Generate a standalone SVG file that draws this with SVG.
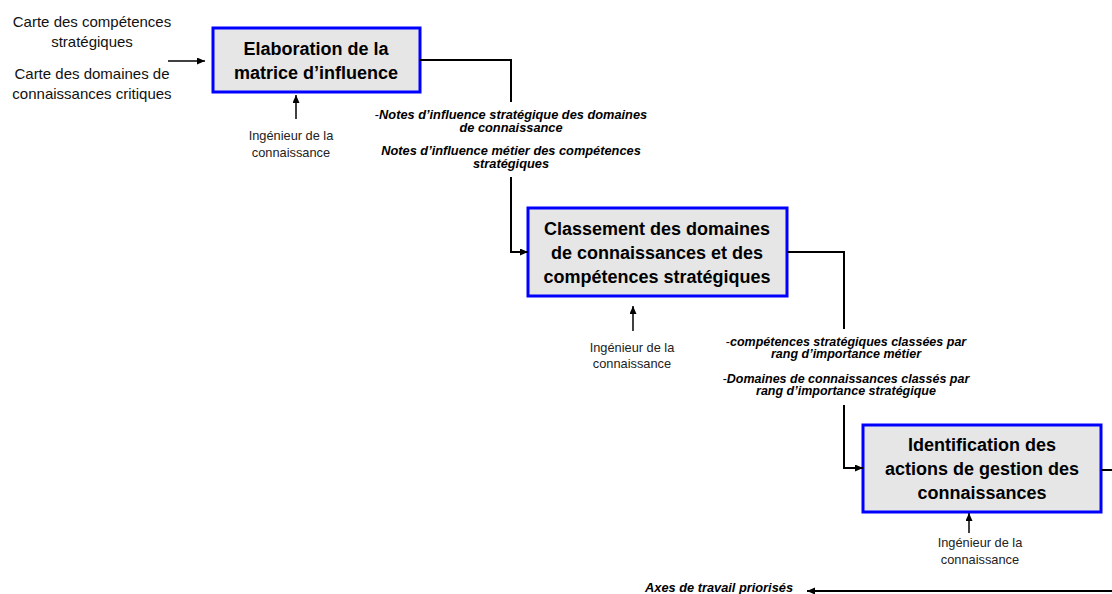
<svg xmlns="http://www.w3.org/2000/svg" width="1112" height="594" viewBox="0 0 1112 594">
<style>
.box{fill:#e6e6e6;stroke:#0000ff;stroke-width:3}
.bt{font-family:"Liberation Sans",Arial,sans-serif;font-size:18px;font-weight:bold;fill:#000;text-anchor:middle}
.in{font-family:"Liberation Sans",Arial,sans-serif;font-size:15px;fill:#111;text-anchor:middle}
.ing{font-family:"Liberation Sans",Arial,sans-serif;font-size:12.8px;fill:#222;text-anchor:middle}
.lb{font-family:"Liberation Sans",Arial,sans-serif;font-size:12.8px;font-weight:bold;font-style:italic;fill:#000;text-anchor:middle}
.lb2{font-family:"Liberation Sans",Arial,sans-serif;font-size:12.5px;font-weight:bold;font-style:italic;fill:#000;text-anchor:middle}
.hy{font-weight:normal;font-style:normal}
.cn{fill:none;stroke:#000;stroke-width:2}
.cs{fill:none;stroke:#000;stroke-width:1.5}
</style>
<defs>
<marker id="ah" markerWidth="8" markerHeight="8" refX="8" refY="3.5" orient="auto" markerUnits="userSpaceOnUse">
<path d="M0,0 L8,3.5 L0,7 z" fill="#000"/>
</marker>
</defs>
<rect width="1112" height="594" fill="#fff"/>

<g id="inputs">
<text class="in" x="92" y="27">Carte des compétences</text>
<text class="in" x="92" y="47">stratégiques</text>
<text class="in" x="92" y="79">Carte des domaines de</text>
<text class="in" x="92" y="99">connaissances critiques</text>
</g>

<g id="node1">
<rect class="box" x="213" y="28" width="207" height="64"/>
<text class="bt" x="316" y="55">Elaboration de la</text>
<text class="bt" x="316" y="79">matrice d’influence</text>
</g>

<g id="node2">
<rect class="box" x="528" y="208" width="259" height="88"/>
<text class="bt" x="657" y="235">Classement des domaines</text>
<text class="bt" x="657" y="259">de connaissances et des</text>
<text class="bt" x="657" y="283">compétences stratégiques</text>
</g>

<g id="node3">
<rect class="box" x="863" y="425" width="238" height="87"/>
<text class="bt" x="982" y="451">Identification des</text>
<text class="bt" x="982" y="475">actions de gestion des</text>
<text class="bt" x="982" y="499">connaissances</text>
</g>

<g id="actors">
<text class="ing" x="291" y="140">Ingénieur de la</text>
<text class="ing" x="291" y="157">connaissance</text>
<text class="ing" x="632" y="352">Ingénieur de la</text>
<text class="ing" x="632" y="368">connaissance</text>
<text class="ing" x="980" y="547">Ingénieur de la</text>
<text class="ing" x="980" y="564">connaissance</text>
</g>

<g id="connectors">
<line class="cs" x1="168" y1="61" x2="205" y2="61" marker-end="url(#ah)"/>
<polyline class="cn" points="420,60 511,60 511,102"/>
<polyline class="cn" points="511,177 511,252 528,252" marker-end="url(#ah)"/>
<polyline class="cn" points="787,252 844,252 844,329"/>
<polyline class="cn" points="844,405 844,468 863,468" marker-end="url(#ah)"/>
<line class="cn" x1="1101" y1="470" x2="1112" y2="470"/>
<line class="cn" x1="1112" y1="591" x2="807" y2="591" marker-end="url(#ah)"/>
<line class="cs" x1="296" y1="119" x2="296" y2="95" marker-end="url(#ah)"/>
<line class="cs" x1="633" y1="331" x2="633" y2="306" marker-end="url(#ah)"/>
<line class="cs" x1="969" y1="533" x2="969" y2="513" marker-end="url(#ah)"/>
</g>

<g id="labels">
<text class="lb" x="511" y="119"><tspan class="hy">-</tspan>Notes d’influence stratégique des domaines</text>
<text class="lb" x="511" y="132">de connaissance</text>
<text class="lb" x="511" y="155">Notes d’influence métier des compétences</text>
<text class="lb" x="511" y="168">stratégiques</text>
<text class="lb2" x="846" y="346"><tspan class="hy">-</tspan>compétences stratégiques classées par</text>
<text class="lb2" x="846" y="358">rang d’importance métier</text>
<text class="lb2" x="846" y="383"><tspan class="hy">-</tspan>Domaines de connaissances classés par</text>
<text class="lb2" x="846" y="395">rang d’importance stratégique</text>
<text class="lb" x="793" y="592" style="text-anchor:end">Axes de travail priorisés</text>
</g>
</svg>
